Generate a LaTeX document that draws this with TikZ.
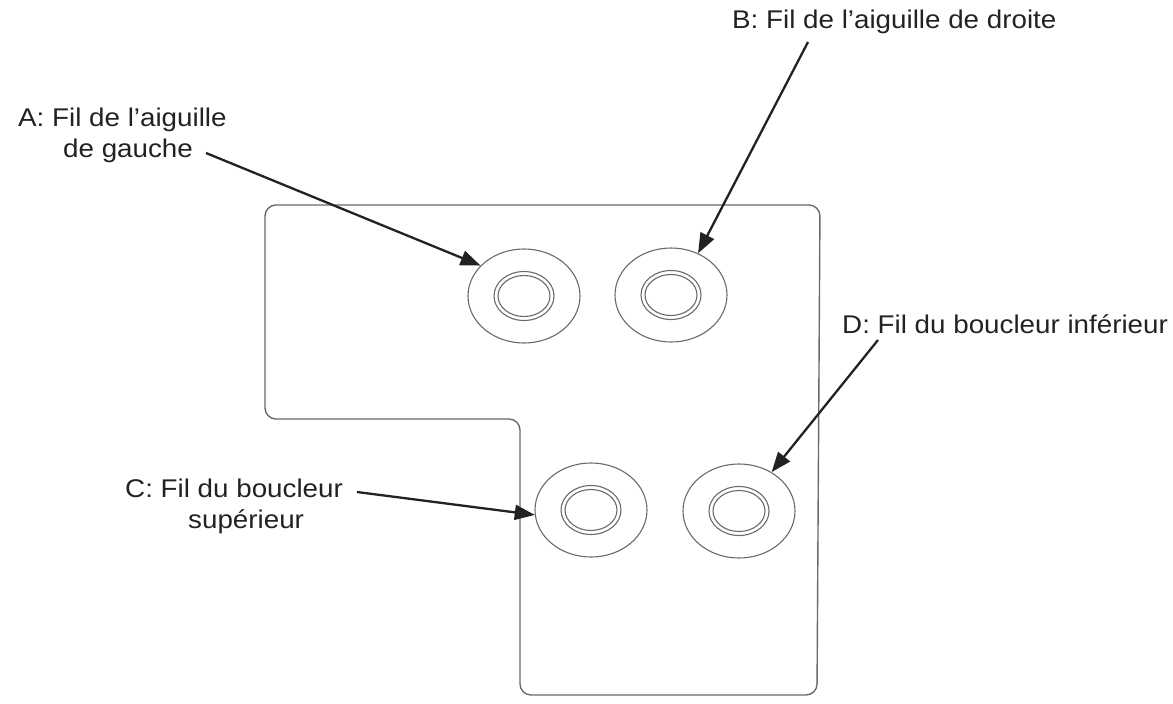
\documentclass[tikz,border=0pt]{standalone}
\usepackage{fontspec}
\setmainfont{Liberation Sans}[FakeStretch=1.085]
\usetikzlibrary{shapes.geometric,arrows.meta}
\definecolor{ink}{HTML}{222222}
\definecolor{edge}{HTML}{6A6A6A}
\tikzset{
  lbl/.style={anchor=base west, inner sep=0pt, text=ink, align=left,
    font=\fontsize{25.6}{31}\selectfont},
  plate/.style={draw=edge, line width=1.4pt, rounded corners=11pt},
  washer/.style={ellipse, draw=edge, line width=1.1pt, minimum width=112pt,
    minimum height=94pt, inner sep=0pt},
  ring/.style={draw=edge, line width=1.1pt},
  ptr/.style={draw=ink, line width=2.3pt,
    -{Triangle[length=20pt,width=15pt]}},
}
\begin{document}
\begin{tikzpicture}[x=1pt,y=-1pt]
\useasboundingbox (0,0) rectangle (1173,704);
% plate
\draw[plate] (265,205) -- (820,205) -- (817,695) -- (520,695) -- (520,419)
  -- (265,419) -- cycle;
% washers
\node[washer] (eA) at (524,296) {};
\node[washer] (eB) at (671,295) {};
\node[washer] (eC) at (591,510) {};
\node[washer] (eD) at (739,511) {};
\foreach \e in {eA,eB,eC,eD}{
  \draw[ring] (\e.center) ellipse [x radius=30, y radius=24.5];
  \draw[ring] (\e.center) ellipse [x radius=26, y radius=20.5];
}
% labels (base anchor = baseline of the last line)
\node[lbl] (tA) at (18,157) {A: Fil de l’aiguille\\\hspace*{45pt}de gauche};
\node[lbl] (tB) at (732,28) {B: Fil de l’aiguille de droite};
\node[lbl] (tC) at (125,528) {C: Fil du boucleur\\\hspace*{63pt}supérieur};
\node[lbl] (tD) at (842,333) {D: Fil du boucleur inférieur};
% arrow start points
\coordinate (sA) at (206,153);
\coordinate (sB) at (808,42);
\coordinate (sC) at (357,492);
\coordinate (sD) at (878,340);
\draw[ptr] (sA) -- (eA.145);
\draw[ptr] (sB) -- (eB.57);
\draw[ptr] (sC) -- (eC.185);
\draw[ptr] (sD) -- (eD.50);
\end{tikzpicture}
\end{document}
